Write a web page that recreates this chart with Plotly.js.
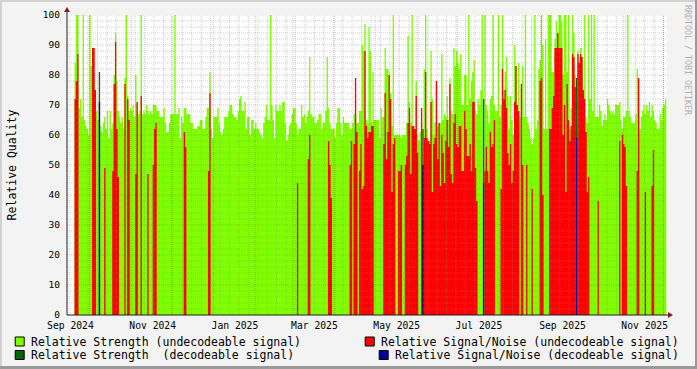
<!DOCTYPE html>
<html><head><meta charset="utf-8">
<script src="https://cdn.plot.ly/plotly-3.0.1.min.js"></script>
<style>html,body{margin:0;padding:0;background:#f3f3f3;}#chart{width:697px;height:369px;}</style>
</head><body><div id="chart"></div>
<script>
// ---- data (one value per day, starting at startDate) ----
const startDate = '2024-09-20';
const strength = [
84,100,100,69,72,66,100,65,63,62,
60,100,83,80,78,69,68,65,0,63,
61,64,66,62,68,59,68,62,64,80,
94,78,68,66,64,66,62,79,100,73,
68,69,68,70,66,80,70,67,68,100,
67,68,67,70,68,67,68,67,70,70,
70,68,68,66,66,66,69,64,61,61,
64,67,67,67,100,67,67,69,59,66,
64,69,69,67,67,67,64,64,62,62,
62,63,63,65,65,62,62,66,69,69,
81,62,59,66,66,66,69,64,61,60,
62,66,66,66,68,70,70,67,66,66,
65,68,72,73,68,68,71,62,66,66,
60,65,65,62,64,62,62,61,60,59,
64,66,70,65,65,100,70,65,59,70,
68,68,70,68,71,71,64,58,60,63,
64,67,69,69,64,60,62,62,70,66,
67,64,66,68,86,67,66,66,64,64,
65,67,67,62,64,64,68,86,69,64,
62,62,62,59,64,69,69,64,60,66,
64,64,64,64,62,62,64,67,67,64,
64,68,68,90,88,97,65,64,96,88,
64,81,65,65,65,65,59,69,66,66,
89,82,82,80,74,63,100,60,60,60,
60,60,59,60,60,60,64,93,71,64,
100,63,60,78,60,58,61,64,0,82,
100,62,58,58,88,72,60,64,78,63,
64,64,87,65,67,66,73,65,79,68,
67,89,83,88,84,82,87,70,70,80,
80,70,100,72,78,81,85,68,67,72,
70,75,100,0,100,70,68,64,72,73,
100,70,68,68,100,66,70,100,75,81,
86,73,62,73,65,60,90,83,70,84,
66,66,83,66,100,66,64,62,59,57,
59,100,62,65,82,85,100,90,62,92,
62,100,100,100,81,81,92,98,94,100,
100,98,80,100,100,81,100,62,69,100,
94,80,0,88,86,89,86,72,100,66,
64,100,72,100,68,100,66,66,66,70,
68,63,65,67,65,72,70,68,67,68,
67,70,70,70,71,65,62,66,66,68,
100,68,66,64,64,64,67,82,67,62,
66,68,70,67,70,68,71,66,70,68,
65,64,62,62,67,65,69,70,72];
const snr = [
72,78,87,0,0,0,0,0,0,0,
0,0,0,89,89,75,0,0,0,0,
0,0,49,0,0,0,0,0,48,77,
91,62,46,0,0,0,0,77,0,72,
65,0,0,0,0,47,71,0,0,73,
0,0,0,0,47,0,0,0,50,62,
64,0,0,0,0,0,0,0,0,0,
0,0,0,0,0,0,0,0,0,0,
0,61,56,0,0,0,0,0,0,0,
0,0,0,0,0,0,0,0,0,48,
74,0,0,0,0,0,0,0,0,0,
0,0,0,0,0,0,0,0,0,0,
0,0,0,0,0,0,0,0,0,0,
0,0,0,0,0,0,0,0,0,0,
0,0,0,0,0,0,0,0,0,0,
0,0,0,0,0,0,0,0,0,0,
0,0,0,0,0,44,0,0,0,0,
0,0,0,52,60,0,0,0,0,0,
0,0,0,0,0,0,0,0,58,50,
39,0,0,0,0,0,0,0,0,0,
0,0,0,0,50,58,0,57,79,61,
0,48,57,42,43,88,63,59,61,61,
63,63,0,0,0,0,0,0,0,57,
74,52,61,80,72,41,57,59,0,0,
48,48,50,0,0,50,53,64,69,47,
63,63,62,73,54,0,0,69,0,59,
81,59,58,57,71,41,57,59,78,52,
64,43,60,54,44,58,65,56,77,47,
44,64,67,57,56,63,63,48,48,68,
62,53,53,57,48,71,71,49,38,0,
0,0,0,0,48,56,48,44,61,56,
57,65,0,0,0,0,42,82,72,75,
69,54,50,57,44,48,71,83,70,68,
0,77,50,0,0,50,0,0,0,42,
0,0,0,0,0,78,79,40,0,0,
0,0,62,62,69,73,89,89,94,89,
89,89,60,70,41,77,65,58,63,87,
86,76,0,87,84,87,86,75,72,61,
41,46,0,0,0,0,0,0,38,0,
0,0,0,0,0,0,0,0,0,0,
0,0,0,0,58,0,60,57,56,43,
0,0,0,0,0,0,0,48,79,0,
0,0,0,41,0,0,0,0,43,55,
0,0,0,0,0,0,0,0,0];
const decDates = ['2024-10-08','2025-06-05','2025-07-20','2025-09-27'];
const decStrength = [81,62,72,79];
const decSnr = [71,50,44,59];
const tickLabels = ['Sep 2024','Nov 2024','Jan 2025','Mar 2025','May 2025','Jul 2025','Sep 2025','Nov 2025'];
const yTicks = [0,10,20,30,40,50,60,70,80,90,100];
const seriesNames = ['Relative Strength (undecodeable signal)','Relative Signal/Noise (undecodeable signal)',
  'Relative Strength\u00a0 (decodeable signal)','Relative Signal/Noise (decodeable signal)'];
const seriesColors = ['#80FF00','#FF0000','#006600','#000099'];

// ---- build ----
const DAY = 864e5;
const t0 = Date.parse(startDate + 'T00:00:00Z');
const iso = ms => new Date(ms).toISOString().replace('T',' ').slice(0,19);
const N = strength.length;
const xs = [];
for (let k = 0; k <= N; k++) xs.push(iso(t0 + k*DAY));
const decS = new Array(N).fill(0), decN = new Array(N).fill(0);
decDates.forEach((d,i)=>{ const k = Math.round((Date.parse(d+'T00:00:00Z')-t0)/DAY); decS[k]=decStrength[i]; decN[k]=decSnr[i]; });
const ext = a => a.concat([a[a.length-1]]);
function area(vals,color,name){
  return {x:xs, y:ext(vals), type:'scatter', mode:'lines', line:{shape:'hv',width:0,color:color},
    fill:'tozeroy', fillcolor:color, name:name, hoverinfo:'skip'};
}
const xr = [iso(t0 - 5.56*DAY), iso(t0 + 439.54*DAY)];
const tickVals = tickLabels.map((s,i)=>iso(Date.UTC(2024, 8 + 2*i, 17)));

const traces = [
  area(strength, seriesColors[0], seriesNames[0]),
  area(decS, seriesColors[2], seriesNames[2]),
  area(snr, seriesColors[1], seriesNames[1]),
  area(decN, seriesColors[3], seriesNames[3]),
  {x:[xr[0]], y:[null], xaxis:'x2', yaxis:'y', type:'scatter', mode:'lines', showlegend:false, hoverinfo:'skip'}
];

// pixel helpers (plot area 67..667 x 15..315)
const px = x => (x-67)/600, py = y => (315-y)/300;
const GRID = 'rgba(140,140,140,0.40)', MGRID = 'rgba(130,30,30,0.27)';
const shapes = [];
for (let v = 2; v <= 100; v += 2) {
  shapes.push({type:'line', xref:'paper', yref:'y', x0:0, x1:1, y0:v, y1:v, layer:'above',
    line:{color: v%10===0 ? MGRID : GRID, width:1, dash:'1px,1px'}});
}
const endMs = t0 + 439.54*DAY;
for (let m = Date.UTC(2024,8,16); m < endMs; m += 7*DAY) {
  shapes.push({type:'line', xref:'x', yref:'paper', x0:iso(m), x1:iso(m), y0:0, y1:1, layer:'above',
    line:{color:GRID, width:1, dash:'1px,1px'}});
}
for (let i = 1; i < 16; i++) {
  const m = Date.UTC(2024, 8+i, 1);
  if (m > endMs) break;
  shapes.push({type:'line', xref:'x', yref:'paper', x0:iso(m), x1:iso(m), y0:0, y1:1, layer:'above',
    line:{color:MGRID, width:1, dash:'1px,1px'}});
}
// axes + arrows
shapes.push({type:'line', xref:'paper', yref:'paper', x0:px(67), x1:px(670), y0:py(315), y1:py(315), layer:'above', line:{color:'#202020', width:1}});
shapes.push({type:'line', xref:'paper', yref:'paper', x0:px(67), x1:px(67), y0:py(315), y1:py(10), layer:'above', line:{color:'#202020', width:1}});
shapes.push({type:'path', xref:'paper', yref:'paper', layer:'above', line:{width:0}, fillcolor:'#802020',
  path:`M${px(668)},${py(312)} L${px(673)},${py(315)} L${px(668)},${py(318)} Z`});
shapes.push({type:'path', xref:'paper', yref:'paper', layer:'above', line:{width:0}, fillcolor:'#802020',
  path:`M${px(64)},${py(12)} L${px(67)},${py(7)} L${px(70)},${py(12)} Z`});
// frame
shapes.push({type:'rect', xref:'paper', yref:'paper', x0:px(0), x1:px(697), y0:py(0), y1:py(2), line:{width:0}, fillcolor:'#d2d2d2'});
shapes.push({type:'rect', xref:'paper', yref:'paper', x0:px(0), x1:px(2), y0:py(0), y1:py(369), line:{width:0}, fillcolor:'#d2d2d2'});
shapes.push({type:'rect', xref:'paper', yref:'paper', x0:px(695), x1:px(697), y0:py(0), y1:py(369), line:{width:0}, fillcolor:'#9a9a9a'});
shapes.push({type:'rect', xref:'paper', yref:'paper', x0:px(0), x1:px(697), y0:py(366), y1:py(369), line:{width:0}, fillcolor:'#9a9a9a'});

// legend
const legPos = [[15.2,30.2,341.5],[365.2,380,341.5],[15.2,30.2,355],[379.2,394.2,355]];
const legOrder = [0,1,2,3];
const annotations = [];
legOrder.forEach((si,i)=>{
  const [bx,tx,cy] = legPos[i];
  shapes.push({type:'rect', xref:'paper', yref:'paper', x0:px(bx), x1:px(bx+9), y0:py(cy-4.5), y1:py(cy+4.5),
    fillcolor:seriesColors[si], line:{color:'#000', width:1}});
  annotations.push({xref:'paper', yref:'paper', x:px(tx), y:py(cy), xanchor:'left', yanchor:'middle', showarrow:false,
    text:seriesNames[si], font:{family:'DejaVu Sans Mono', size:11.5, color:'#000'}, borderpad:0});
});
annotations.push({xref:'paper', yref:'paper', x:px(688), y:py(60), xanchor:'center', yanchor:'middle', showarrow:false,
  textangle:90, text:'RRDTOOL / TOBI OETIKER', font:{family:'DejaVu Sans Mono', size:8.3, color:'#b0b0b0'}});

const tf = {family:'DejaVu Sans Mono', size:9.7, color:'#000'};
const layout = {
  width:697, height:369, margin:{l:67, r:30, t:15, b:54, pad:0},
  paper_bgcolor:'#f3f3f3', plot_bgcolor:'#ffffff', showlegend:false,
  font:{family:'DejaVu Sans Mono', color:'#000'},
  xaxis:{type:'date', range:xr, showgrid:false, zeroline:false, showline:false, ticks:'', showticklabels:false, fixedrange:true},
  xaxis2:{type:'date', overlaying:'x', anchor:'y', side:'bottom', range:xr, showgrid:false, zeroline:false, showline:false,
    ticks:'', tickmode:'array', tickvals:tickVals, ticktext:tickLabels, tickfont:tf, ticklabelstandoff:3, fixedrange:true},
  yaxis:{range:[0,100], tickmode:'array', tickvals:yTicks, ticktext:yTicks.map(String), showgrid:false, zeroline:false,
    showline:false, ticks:'', tickfont:{family:'DejaVu Sans Mono', size:9.5, color:'#000'}, ticklabelstandoff:6, fixedrange:true,
    title:{text:'Relative Quality', font:{family:'DejaVu Sans Mono', size:11.5, color:'#000'}, standoff:23}},
  shapes:shapes, annotations:annotations
};
Plotly.newPlot('chart', traces, layout, {staticPlot:true, displayModeBar:false});
</script></body></html>
